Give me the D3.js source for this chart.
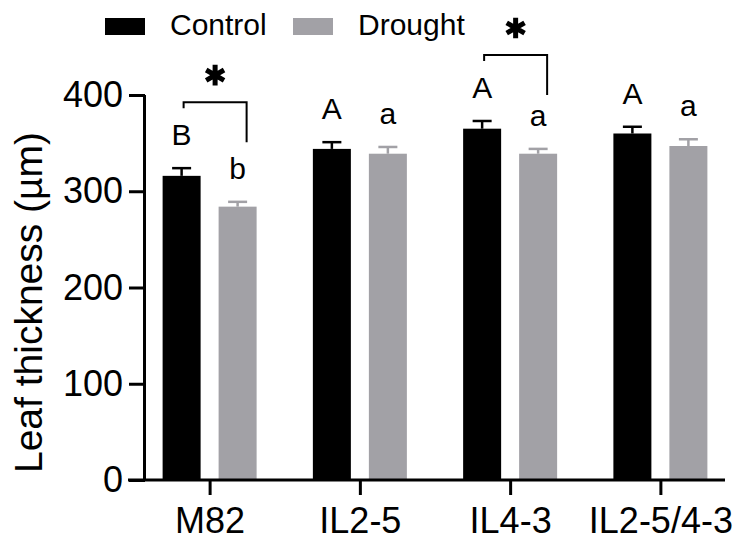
<!DOCTYPE html>
<html>
<head>
<meta charset="utf-8">
<script src="https://cdn.jsdelivr.net/npm/d3@7"></script>
<style>
  html, body { margin: 0; padding: 0; background: #fff; }
  text { font-family: "Liberation Sans", Arial, sans-serif; fill: #000; }
</style>
</head>
<body>
<div id="chart"></div>
<script>
const categories = ['M82', 'IL2-5', 'IL4-3', 'IL2-5/4-3'];
const controlMeans = [316, 344, 365, 360];
const controlErr = [8, 7, 8, 7];
const droughtMeans = [284, 339, 339, 347];
const droughtErr = [5, 7, 5, 7];
const controlLetters = ['B', 'A', 'A', 'A'];
const droughtLetters = ['b', 'a', 'a', 'a'];
const starGroups = ['M82', 'IL4-3'];
const yTicks = [0, 100, 200, 300, 400];

const width = 735, height = 542;
const black = '#000', grey = '#a2a1a6';

const svg = d3.select('#chart').append('svg')
  .attr('width', width)
  .attr('height', height);

const x = d3.scalePoint()
  .domain(categories)
  .range([145, 725])
  .padding(0.43);

const y = d3.scaleLinear()
  .domain([0, 400])
  .range([480, 95]);

const barW = 38, off = 28;

// bars
const groups = categories.map((c, i) => ({
  cat: c,
  series: [
    {key: 'Control', mean: controlMeans[i], err: controlErr[i], letter: controlLetters[i], color: black, dx: -off},
    {key: 'Drought', mean: droughtMeans[i], err: droughtErr[i], letter: droughtLetters[i], color: grey, dx: off}
  ]
}));

const g = svg.append('g').selectAll('g')
  .data(groups)
  .join('g')
    .attr('transform', d => `translate(${x(d.cat)},0)`);

const s = g.selectAll('g')
  .data(d => d.series)
  .join('g');

// error bars
s.append('line')
  .attr('x1', d => d.dx).attr('x2', d => d.dx)
  .attr('y1', d => y(d.mean)).attr('y2', d => y(d.mean + d.err))
  .attr('stroke', d => d.color)
  .attr('stroke-width', 2.5);
s.append('line')
  .attr('x1', d => d.dx - 9.5).attr('x2', d => d.dx + 9.5)
  .attr('y1', d => y(d.mean + d.err)).attr('y2', d => y(d.mean + d.err))
  .attr('stroke', d => d.color)
  .attr('stroke-width', 2.5);

s.append('rect')
  .attr('x', d => d.dx - barW / 2)
  .attr('width', barW)
  .attr('y', d => y(d.mean))
  .attr('height', d => y(0) - y(d.mean))
  .attr('fill', d => d.color);

// letters
s.append('text')
  .attr('x', d => d.dx)
  .attr('y', d => y(d.mean + d.err) - 23)
  .attr('text-anchor', 'middle')
  .style('font-size', '30px')
  .text(d => d.letter);

// significance brackets
starGroups.forEach(c => {
  const i = categories.indexOf(c);
  const cx = x(c);
  const top = y(controlMeans[i] + controlErr[i]) - 23 - 43;
  const x1 = cx - off + 2, x2 = cx + off + 9;
  svg.append('path')
    .attr('d', `M${x1},${top + 6}V${top}H${x2}V${top + 40}`)
    .attr('fill', 'none')
    .attr('stroke', '#000')
    .attr('stroke-width', 2);
  svg.append('path')
    .attr('transform', `translate(${(x1 + x2) / 2},${top - 27})`)
    .attr('d', d3.symbol(d3.symbolAsterisk, 300)())
    .attr('fill', 'none')
    .attr('stroke', '#000')
    .attr('stroke-width', 5);
});

// axes
const yAxis = svg.append('g')
  .attr('transform', 'translate(145,0)')
  .call(d3.axisLeft(y).tickValues(yTicks).tickSize(16).tickPadding(6));
yAxis.select('.domain').attr('d', `M-0.5,${y(400)}V${y(0)}`);

const xAxis = svg.append('g')
  .attr('transform', `translate(0,${y(0)})`)
  .call(d3.axisBottom(x).tickSize(15).tickPadding(14));
xAxis.select('.domain').attr('d', `M128,0H725`);

svg.selectAll('.domain, .tick line')
  .attr('stroke', '#000')
  .attr('stroke-width', 3);
svg.selectAll('.tick text')
  .style('font-size', '36px')
  .attr('font-family', null)
  .attr('fill', '#000');
xAxis.selectAll('.tick text').attr('dy', '0.68em');

svg.append('text')
  .attr('transform', `translate(42,${(y(0) + y(400)) / 2 + 15}) rotate(-90)`)
  .attr('text-anchor', 'middle')
  .style('font-size', '39px')
  .text('Leaf thickness (µm)');

// legend
const legend = [
  {label: 'Control', color: black, x: 105},
  {label: 'Drought', color: grey, x: 293}
];
const lg = svg.append('g').selectAll('g')
  .data(legend)
  .join('g')
    .attr('transform', d => `translate(${d.x},18)`);
lg.append('rect')
  .attr('width', 40).attr('height', 17)
  .attr('fill', d => d.color);
lg.append('text')
  .attr('x', 65).attr('y', 17)
  .style('font-size', '30px')
  .text(d => d.label);
</script>
</body>
</html>
